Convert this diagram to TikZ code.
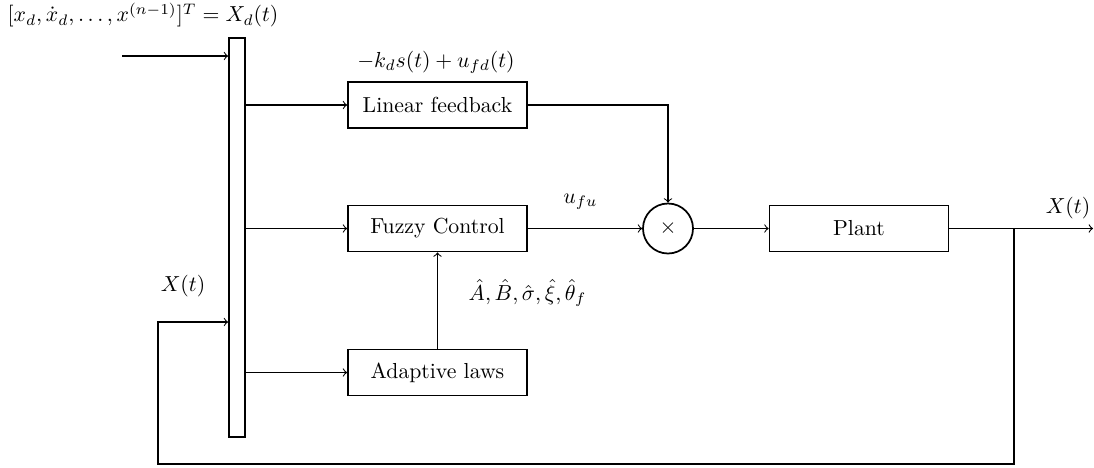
\documentclass[tikz,border=0pt]{standalone}
\usetikzlibrary{positioning}
\begin{document}
\begin{tikzpicture}
[x=0.46pt,y=-0.46pt,->,line width=0.5pt,
block/.style={draw,-,line width=0.8pt,minimum width=179*0.46pt,minimum height=46*0.46pt,inner sep=0pt},
lbl/.style={inner sep=1pt}]
\useasboundingbox (0,0) rectangle (1094,468);
% mux bar
\node[draw,-,line width=0.8pt,minimum width=16*0.46pt,minimum height=399*0.46pt,inner sep=0pt] (mux) at (237,237.5) {};
% blocks
\node[block] (lin) at (437.5,105) {Linear feedback};
\node[block] (fuz) at (437.5,228.5) {Fuzzy Control};
\node[block] (ada) at (437.5,372.5) {Adaptive laws};
\node[block] (plant) at (859,228.5) {Plant};
\node[draw,-,circle,line width=0.8pt,minimum size=50*0.46pt,inner sep=0pt] (mult) at (668,228.5) {$\times$};
% labels
\node[lbl] (xd) at (143,15) {$[x_d,\dot{x}_d,\ldots,x^{(n-1)}]^T=X_d(t)$};
\node[lbl] (ctl) at (436,62) {$-k_d s(t)+u_{fd}(t)$};
\node[lbl] (xt) at (183,286) {$X(t)$};
\node[lbl] (xo) at (1068,208) {$X(t)$};
\node[lbl,anchor=west] (par) at (466,293) {$\hat{A},\hat{B},\hat{\sigma},\hat{\xi},\hat{\theta}_f$};
% points
\coordinate (xdin) at (122,56);
\coordinate (fb) at (1014,228.5);
\coordinate (fbc) at (158,464);
\coordinate (xin) at (158,322);
\coordinate (out) at (1093,228.5);
% connectors
\draw (xdin) -- (mux.west |- xdin);
\draw (mux.east |- lin) -- (lin);
\draw (mux.east |- fuz) -- (fuz);
\draw (mux.east |- ada) -- (ada);
\draw (lin) -| (mult);
\draw (fuz) -- node[above=5pt,pos=0.46] {$u_{fu}$} (mult);
\draw (mult) -- (plant);
\draw (ada) -- (fuz);
\draw (plant) -- (out);
\draw (fb) |- (fbc) -- (xin) -- (mux.west |- xin);
\end{tikzpicture}
\end{document}
